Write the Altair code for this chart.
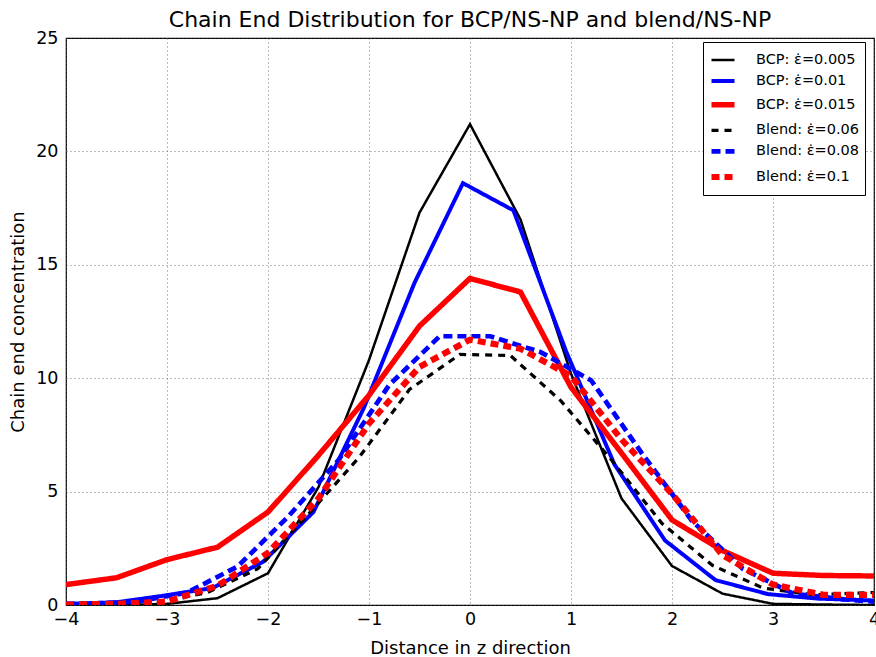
import altair as alt
import pandas as pd

EPS = "\u03b5\u0307"
LABELS = [
    f"BCP: {EPS}=0.005",
    f"BCP: {EPS}=0.01",
    f"BCP: {EPS}=0.015",
    f"Blend: {EPS}=0.06",
    f"Blend: {EPS}=0.08",
    f"Blend: {EPS}=0.1",
]
# scales share this domain, ordered from the thinnest to the thickest line
STYLE_ORDER = [LABELS[0], LABELS[3], LABELS[1], LABELS[4], LABELS[2], LABELS[5]]
STYLE_COLORS = ["#000000", "#000000", "#0000ff", "#0000ff", "#ff0000", "#ff0000"]
STYLE_DASHES = [[1, 0], [7, 6], [1, 0], [9, 5], [1, 0], [8, 5]]
WIDTH_RANGE = [2.5, 6.2]

X_BCP = [-4.0, -3.5, -3.0, -2.5, -2.0, -1.5, -1.0, -0.5, 0.0, 0.5, 1.0, 1.5, 2.0, 2.5, 3.0, 3.5, 4.0]
Y_BCP_005 = [0.0, 0.0, 0.05, 0.3, 1.4, 5.2, 10.8, 17.3, 21.2, 17.0, 10.2, 4.7, 1.72, 0.5, 0.05, 0.02, 0.0]

X_BCP_01 = [-4.0, -3.5, -3.05, -2.55, -2.05, -1.55, -1.05, -0.55, -0.07, 0.43, 0.95, 1.43, 1.93, 2.43, 2.95, 3.45, 4.0]
Y_BCP_01 = [0.05, 0.12, 0.4, 0.75, 1.9, 4.1, 8.7, 14.2, 18.6, 17.4, 11.2, 6.2, 2.85, 1.1, 0.48, 0.28, 0.2]

Y_BCP_015 = [0.9, 1.2, 2.0, 2.55, 4.1, 6.6, 9.25, 12.3, 14.4, 13.8, 9.6, 6.7, 3.75, 2.4, 1.4, 1.3, 1.28]

X_BL_06 = [-4.0, -3.6, -3.1, -2.6, -2.1, -1.6, -1.1, -0.6, -0.1, 0.4, 0.9, 1.4, 1.9, 2.4, 2.9, 3.4, 4.0]
Y_BL_06 = [0.0, 0.02, 0.1, 0.55, 1.6, 4.0, 6.5, 9.5, 11.05, 11.0, 9.0, 6.4, 3.6, 1.75, 0.75, 0.45, 0.55]

X_BL_08 = [-4.0, -3.8, -3.3, -2.8, -2.3, -1.8, -1.3, -0.8, -0.3, 0.2, 0.7, 1.2, 1.7, 2.2, 2.7, 3.2, 3.7, 4.0]
Y_BL_08 = [0.05, 0.05, 0.15, 0.55, 1.7, 3.9, 6.4, 9.7, 11.85, 11.85, 11.15, 9.9, 6.7, 3.7, 1.6, 0.5, 0.25, 0.15]

Y_BL_1 = [0.02, 0.05, 0.15, 0.85, 2.3, 4.7, 8.0, 10.5, 11.7, 11.3, 10.1, 7.3, 4.9, 2.2, 0.9, 0.45, 0.45]

SERIES = [
    (LABELS[0], X_BCP, Y_BCP_005),
    (LABELS[1], X_BCP_01, Y_BCP_01),
    (LABELS[2], X_BCP, Y_BCP_015),
    (LABELS[3], X_BL_06, Y_BL_06),
    (LABELS[4], X_BL_08, Y_BL_08),
    (LABELS[5], X_BCP, Y_BL_1),
]

rows = []
for name, xs, ys in SERIES:
    for i, (xv, yv) in enumerate(zip(xs, ys)):
        rows.append({"series": name, "x": xv, "y": yv, "order": i})
df = pd.DataFrame(rows)

FONT = "DejaVu Sans"

legend = alt.Legend(
    title=None,
    values=LABELS,
    orient="none",
    legendX=637,
    legendY=4,
    symbolType="stroke",
    symbolSize=529,
    labelFont=FONT,
    labelFontSize=14.5,
    labelColor="#000000",
    strokeColor="#000000",
    fillColor="#ffffff",
    padding=5,
    rowPadding=0.6,
    labelOffset=18,
    cornerRadius=0,
)

chart = (
    alt.Chart(df)
    .mark_line(clip=True, strokeCap="butt", strokeJoin="miter")
    .encode(
        x=alt.X(
            "x:Q",
            scale=alt.Scale(domain=[-4, 4], nice=False, zero=False),
            axis=alt.Axis(
                title="Distance in z direction",
                values=[-4, -3, -2, -1, 0, 1, 2, 3, 4],
                format="d",
                ticks=False,
                labelFlush=False,
                labelPadding=5,
                titlePadding=12,
                labelFontSize=17.5,
                titleFontSize=18,
            ),
        ),
        y=alt.Y(
            "y:Q",
            scale=alt.Scale(domain=[0, 25], nice=False),
            axis=alt.Axis(
                title="Chain end concentration",
                values=[0, 5, 10, 15, 20, 25],
                ticks=False,
                labelFlush=False,
                labelPadding=8,
                titlePadding=8,
                labelFontSize=17.5,
                titleFontSize=18,
            ),
        ),
        color=alt.Color(
            "series:N",
            scale=alt.Scale(domain=STYLE_ORDER, range=STYLE_COLORS),
            legend=legend,
        ),
        strokeDash=alt.StrokeDash(
            "series:N",
            scale=alt.Scale(domain=STYLE_ORDER, range=STYLE_DASHES),
            legend=legend,
        ),
        strokeWidth=alt.StrokeWidth(
            "series:N",
            scale=alt.Scale(type="point", domain=STYLE_ORDER, range=WIDTH_RANGE, padding=0),
            legend=legend,
        ),
        order="order:Q",
    )
    .properties(
        width=808,
        height=567,
        title=alt.Title(
            "Chain End Distribution for BCP/NS-NP and blend/NS-NP",
            font=FONT,
            fontSize=22,
            fontWeight="normal",
            color="#000000",
            offset=-3,
        ),
        autosize=alt.AutoSizeParams(type="none"),
        padding={"left": 66, "top": 38, "right": 2, "bottom": 52},
    )
    .configure(font=FONT)
    .configure_view(stroke="#000000", strokeWidth=1.2)
    .configure_axis(
        grid=True,
        gridColor="#555555",
        gridDash=[1, 3],
        gridWidth=0.8,
        domain=False,
        labelFont=FONT,
        titleFont=FONT,
        labelColor="#000000",
        titleColor="#000000",
        titleFontWeight="normal",
    )
)

chart.save("out.html", embed_options={"renderer": "svg", "actions": False})
